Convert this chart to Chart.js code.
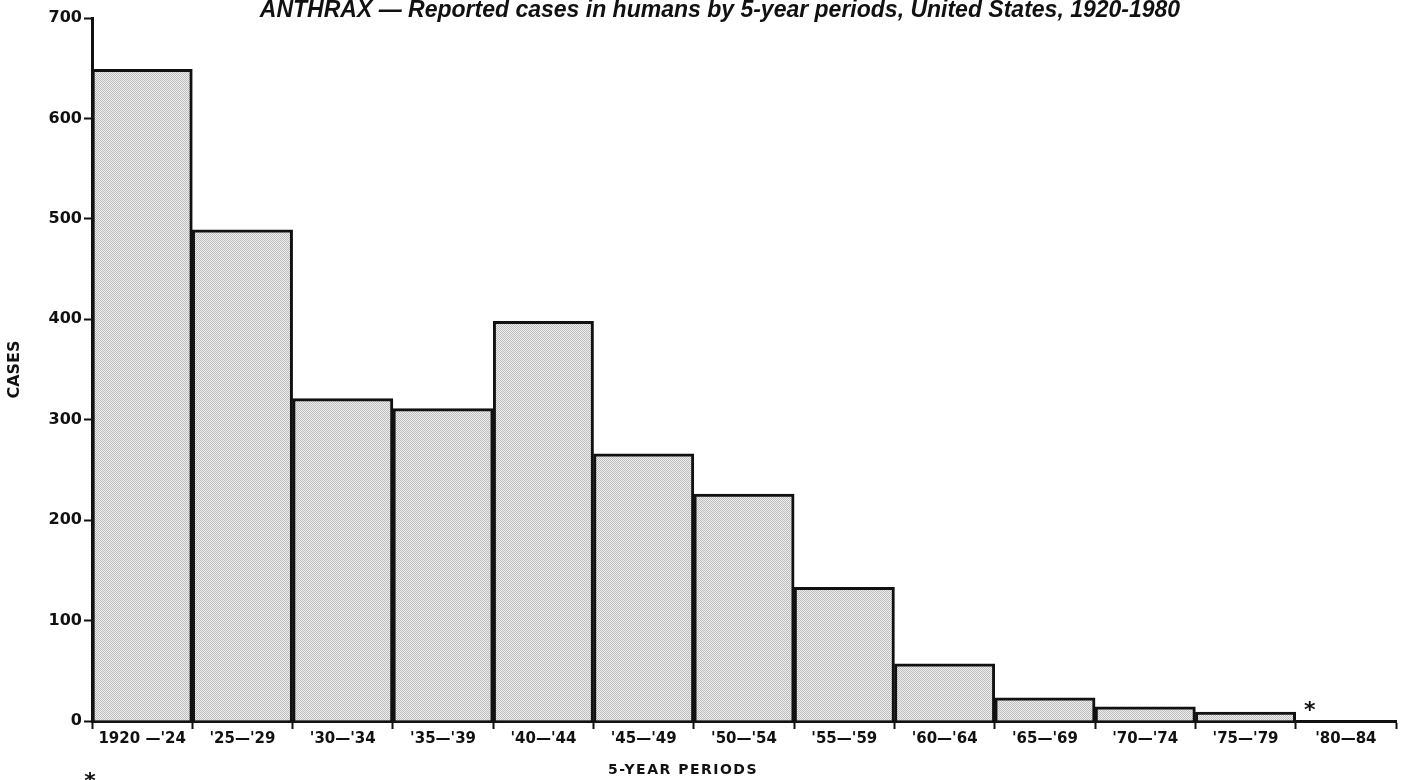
<!DOCTYPE html>
<html>
<head>
<meta charset="utf-8">
<script src="https://cdn.jsdelivr.net/npm/chart.js@4"></script>
<style>
  html, body { margin: 0; padding: 0; background: #fff; }
  #wrap { width: 1407px; height: 780px; }
</style>
</head>
<body>
<div id="wrap"><canvas id="anthraxChart" width="1407" height="780"></canvas></div>
<script>
// periods along the x axis
const periods = ["1920 \u2014'24", "'25\u2014'29", "'30\u2014'34", "'35\u2014'39", "'40\u2014'44", "'45\u2014'49",
  "'50\u2014'54", "'55\u2014'59", "'60\u2014'64", "'65\u2014'69", "'70\u2014'74", "'75\u2014'79", "'80\u201484"];
// reported cases; last period has no bar
const cases = [649, 489, 321, 311, 398, 266, 226, 133, 57, 23, 14, 9, null];
// footnote marks per period
const notes = ["", "", "", "", "", "", "", "", "", "", "", "", "*"];
const yTicks = [0, 100, 200, 300, 400, 500, 600, 700];

// stipple fill like the printed halftone
function stipple() {
  const c = document.createElement("canvas");
  c.width = 2; c.height = 2;
  const g = c.getContext("2d");
  g.fillStyle = "#eeeeee";
  g.fillRect(0, 0, 2, 2);
  g.fillStyle = "#bdbdbd";
  g.fillRect(0, 0, 1, 1);
  g.fillRect(1, 1, 1, 1);
  return g.createPattern(c, "repeat");
}

const extras = {
  id: "extras",
  afterDraw(chart) {
    const { ctx, scales } = chart;
    const x = scales.x, y = scales.y;
    ctx.save();
    ctx.fillStyle = "#111";
    ctx.textAlign = "center";
    ctx.textBaseline = "middle";
    // title sits over the top of the plot
    ctx.font = "italic bold 23px 'Liberation Sans'";
    ctx.fillText("ANTHRAX \u2014 Reported cases in humans by 5-year periods, United States, 1920-1980", 720, 11);
    // footnote stars
    ctx.font = "bold 22px 'DejaVu Sans'";
    notes.forEach((n, i) => {
      if (!n) return;
      ctx.fillText(n, x.getPixelForValue(i) - 36, y.getPixelForValue(0) - 10);
    });
    ctx.fillText("*", 90, 782);
    // x axis title
    ctx.font = "bold 14px 'DejaVu Sans'";
    ctx.letterSpacing = "1.5px";
    ctx.fillText("5-YEAR PERIODS", 683, 770);
    ctx.restore();
  }
};

new Chart(document.getElementById("anthraxChart"), {
  type: "bar",
  data: {
    labels: periods,
    datasets: [{
      data: cases,
      backgroundColor: stipple(),
      borderColor: "#111",
      borderWidth: 3,
      borderSkipped: "bottom",
      barPercentage: 1,
      categoryPercentage: 1
    }]
  },
  options: {
    responsive: false,
    animation: false,
    layout: { padding: { top: 18, right: 11, left: 0, bottom: 0 } },
    plugins: {
      legend: { display: false },
      tooltip: { enabled: false }
    },
    scales: {
      x: {
        grid: { display: true, drawOnChartArea: false, drawTicks: true, tickLength: 8, tickWidth: 2, color: "#111", offset: true },
        border: { display: true, color: "#111", width: 3 },
        ticks: {
          color: "#111",
          font: { family: "'DejaVu Sans'", size: 15, weight: "bold" },
          maxRotation: 0,
          autoSkip: false,
          padding: 1
        },
        afterFit(scale) { scale.height = 59; }
      },
      y: {
        min: 0,
        max: 700,
        afterBuildTicks(scale) { scale.ticks = yTicks.map(v => ({ value: v })); },
        grid: { display: true, drawOnChartArea: false, drawTicks: true, tickLength: 8, tickWidth: 2, color: "#111" },
        border: { display: true, color: "#111", width: 3 },
        ticks: {
          color: "#111",
          font: { family: "'DejaVu Sans'", size: 16, weight: "bold" },
          padding: 2
        },
        title: {
          display: true,
          text: "CASES",
          color: "#111",
          font: { family: "'DejaVu Sans'", size: 16, weight: "bold" },
          padding: { top: 5, bottom: 0 }
        },
        afterFit(scale) { scale.width = 92; }
      }
    }
  },
  plugins: [extras]
});
</script>
</body>
</html>
